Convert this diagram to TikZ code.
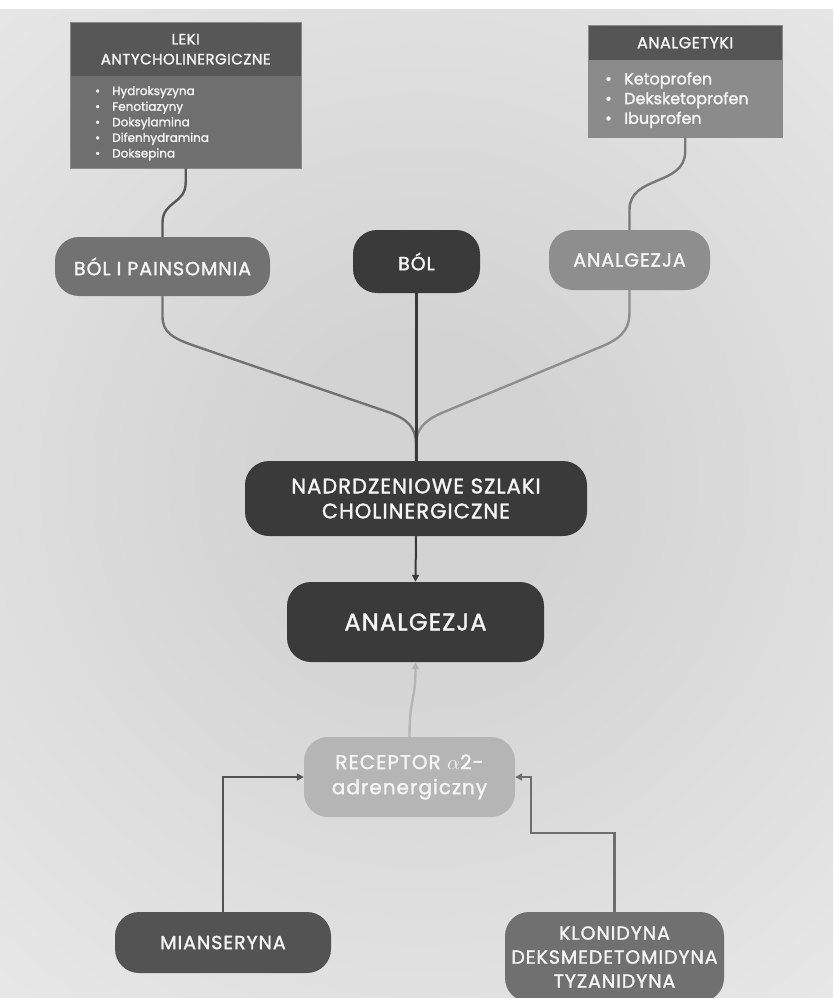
\documentclass[tikz,border=0pt]{standalone}
\usepackage{fontspec}
\setmainfont{Poppins}[FakeBold=1.6]
\usetikzlibrary{arrows.meta,calc}
\definecolor{bgc}{HTML}{D3D3D3}
\definecolor{cdark}{HTML}{3A3A3A}
\definecolor{lekih}{HTML}{575757}
\definecolor{lekibc}{HTML}{6F6F6F}
\definecolor{anah}{HTML}{555555}
\definecolor{anabc}{HTML}{8B8B8B}
\definecolor{cpain}{HTML}{727272}
\definecolor{canal}{HTML}{8E8E8E}
\definecolor{crec}{HTML}{B5B5B5}
\definecolor{cmian}{HTML}{535353}
\definecolor{cklon}{HTML}{707070}
\definecolor{txt}{HTML}{F4F4F4}
\definecolor{boxedge}{HTML}{8A8A8A}
\pgfdeclareradialshading{bgshade}{\pgfpoint{0bp}{0bp}}{color(0bp)=(bgc); color(6bp)=(bgc); color(44bp)=(white!96!black); color(50bp)=(white)}
\newcommand{\pf}[2]{\fontsize{#1}{#2}\selectfont\addfontfeature{LetterSpace=5}}
\tikzset{
  pill/.style={rounded corners=24pt, text=txt, align=center, inner sep=0pt, font=\pf{19}{24}},
  hdr/.style={anchor=north west, inner sep=0pt, text=txt, align=center},
  listtxt/.style={anchor=north west, inner sep=0pt, text=txt, align=left},
  conn/.style={line width=2.4pt},
  tip/.style={-{Triangle[length=7pt,width=7pt]}}
}
\begin{document}
\begin{tikzpicture}[x=1pt,y=-1pt]
\useasboundingbox (0,0) rectangle (833,998);
\begin{scope}
\clip (0,0) rectangle (833,998);
\fill[white] (0,0) rectangle (833,998);
\shade[shading=bgshade] (-150,-100) rectangle (990,1060);
\fill[white] (0,0) rectangle (833,9);
\end{scope}

% top boxes
\node[hdr, fill=lekih, minimum width=231pt, minimum height=54pt, font=\fontsize{15}{20}\selectfont\addfontfeature{LetterSpace=3}] (lekihd) at (70,22) {LEKI\\ANTYCHOLINERGICZNE};
\node[hdr, fill=lekibc, minimum width=231pt, minimum height=92pt] (lekib) at (70,76) {};
\draw[boxedge, line width=0.8pt] (lekihd.north west) rectangle (lekib.south east);
\node[listtxt, font=\fontsize{12}{15.6}\selectfont] (lekil) at (95,86) {\makebox[17pt][l]{•}Hydroksyzyna\\\makebox[17pt][l]{•}Fenotiazyny\\\makebox[17pt][l]{•}Doksylamina\\\makebox[17pt][l]{•}Difenhydramina\\\makebox[17pt][l]{•}Doksepina};

\node[hdr, fill=anah, minimum width=194pt, minimum height=35pt, font=\fontsize{16}{20}\selectfont\addfontfeature{LetterSpace=3}] (anahd) at (588,25) {ANALGETYKI};
\node[hdr, fill=anabc, minimum width=194pt, minimum height=77pt] (anab) at (588,60) {};
\draw[boxedge, line width=0.8pt] (anahd.north west) rectangle (anab.south east);
\node[listtxt, font=\fontsize{16}{19.7}\selectfont] (anal) at (605,72) {\makebox[19pt][l]{•}Ketoprofen\\\makebox[19pt][l]{•}Deksketoprofen\\\makebox[19pt][l]{•}Ibuprofen};

% pills
\node[pill, fill=cpain, minimum width=215pt, minimum height=59pt] (painsom) at (162.5,266.5) {BÓL I PAINSOMNIA};
\node[pill, fill=cdark, minimum width=127pt, minimum height=63pt] (bol) at (416.5,261.5) {BÓL};
\node[pill, fill=canal, minimum width=161pt, minimum height=60pt] (analg1) at (629.5,260) {ANALGEZJA};
\node[pill, fill=cdark, minimum width=342pt, minimum height=75pt, font=\pf{21}{25}] (nadr) at (416,498.5) {NADRDZENIOWE SZLAKI\\CHOLINERGICZNE};
\node[pill, fill=cdark, minimum width=257pt, minimum height=80pt, font=\pf{24}{28}] (analg2) at (415.5,622) {ANALGEZJA};
\node[pill, fill=crec, minimum width=211pt, minimum height=80pt, font=\pf{20}{25}] (recep) at (409.5,777) {RECEPTOR $\alpha$2-\\adrenergiczny};
\node[pill, fill=cmian, minimum width=216pt, minimum height=61pt] (mians) at (223,942.5) {MIANSERYNA};
\node[pill, fill=cklon, minimum width=219pt, minimum height=90pt] (klon) at (614.5,957) {KLONIDYNA\\DEKSMEDETOMIDYNA\\TYZANIDYNA};

% connectors
\draw[conn, draw=lekih] (lekib.south) -- ++(0,14) .. controls +(0,22) and +(0,-22) .. ($(painsom.north)+(0,-14)$) -- (painsom.north);
\draw[conn, draw=cklon!95!white] (anab.south) -- ++(0,14) .. controls +(0,35) and +(0,-35) .. ($(analg1.north)+(0,-20)$) -- (analg1.north);
\draw[conn, draw=cpain] (painsom.south) -- ++(0,20) .. controls +(0,16) and (172,338) .. (195,346) -- (388,412) .. controls (408,419) and (416,428) .. (416,444) -- (nadr.north);
\draw[conn, draw=canal] (analg1.south) -- ++(0,22) .. controls +(0,20) and (618,340) .. (598,348) -- (444,412) .. controls (424,420) and (416,430) .. (416,444) -- (nadr.north);
\draw[conn, draw=cdark] (bol.south) -- (bol.south |- nadr.north);
\draw[conn, draw=cdark, line width=2pt, tip] (nadr.south) -- (analg2.north);
\draw[conn, draw=crec, tip] (recep.north) .. controls +(0,-40) and +(0,40) .. (analg2.south);
\draw[conn, draw=cmian, tip] (mians.north) |- (recep.west);
\draw[conn, draw=cmian!85!white, tip] (klon.north) |- (531,833) |- (recep.east);
\end{tikzpicture}
\end{document}
